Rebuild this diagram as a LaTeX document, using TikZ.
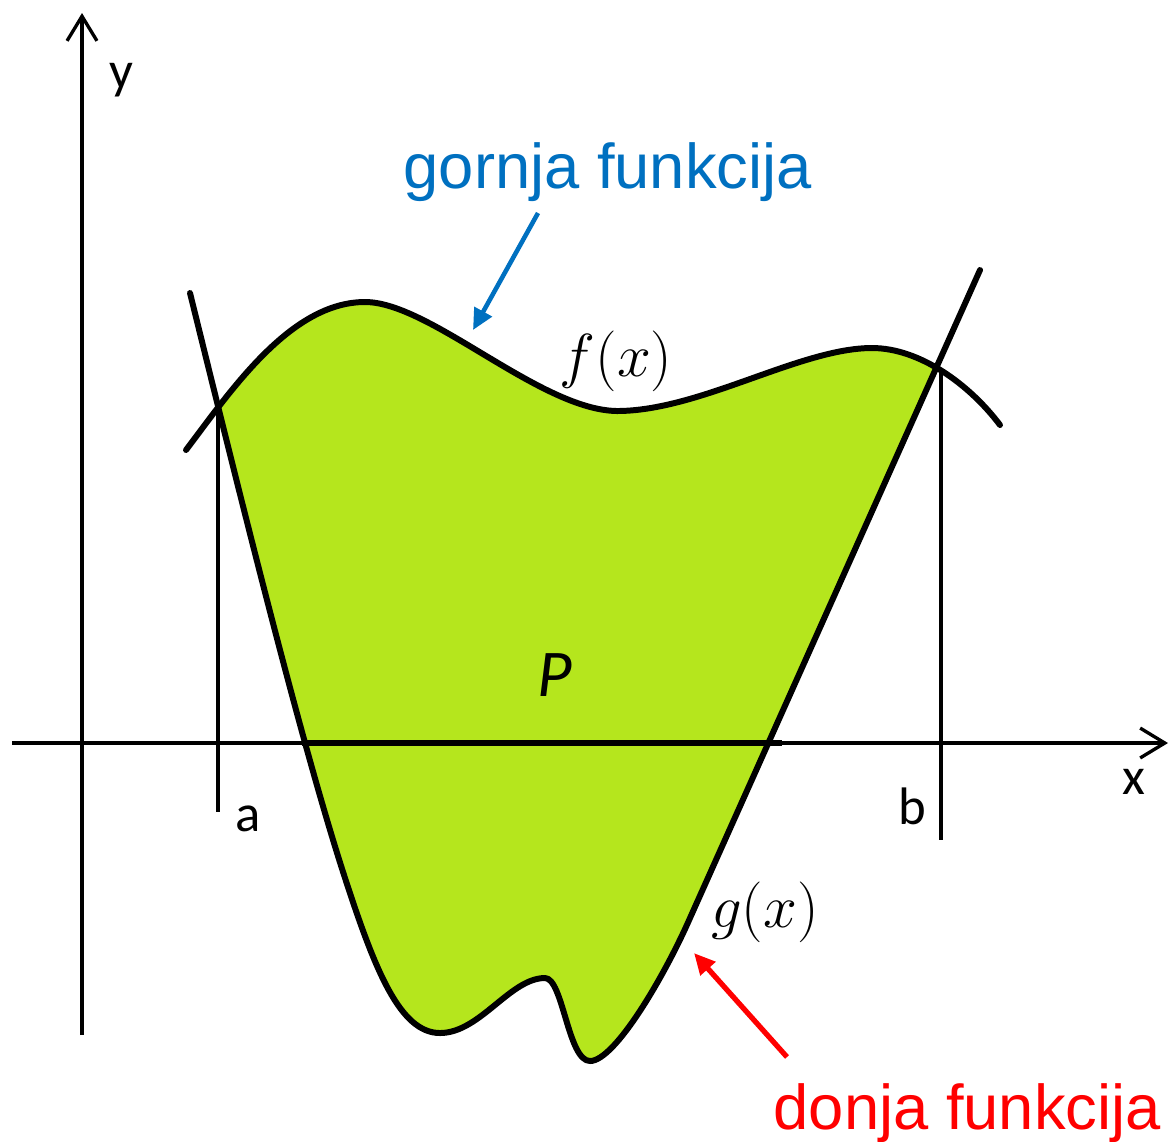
\documentclass[tikz,border=0pt]{standalone}
\usepackage{fontspec}
\setmainfont{Liberation Sans}
\newfontfamily\calibri{Carlito}
\usetikzlibrary{arrows.meta}

\definecolor{povrsina}{HTML}{B5E61D}
\definecolor{plava}{HTML}{0070C0}

% f(x) i g(x)
\newcommand\fcurve{(186,450) .. controls (230,392) and (290,302) .. (365,302)
  .. controls (430,302) and (540,410) .. (617,411)
  .. controls (700,411) and (800,348) .. (872,348)
  .. controls (920,348) and (970,385) .. (1000,425)}
\newcommand\gcurve{(190,293) .. controls (235,475) and (300,740) .. (345,878)
  .. controls (375,970) and (400,1033) .. (440,1033)
  .. controls (480,1033) and (510,978) .. (545,978)
  .. controls (563,978) and (568,1061) .. (590,1061)
  .. controls (615,1061) and (665,975) .. (690,918)
  -- (980,270)}

\begin{document}
\begin{tikzpicture}[x=0.01cm, y=-0.01cm,
  curve/.style={line width=1.7pt, line join=round, line cap=round},
  axis/.style={line width=0.95pt, -{Straight Barb[length=7pt,width=8.5pt]}},
  bound/.style={line width=0.95pt},
  lbl/.style={inner sep=0pt, font=\calibri\fontsize{15}{15}\selectfont},
  fn/.style={inner sep=0pt, font=\fontsize{16}{17}\selectfont},
  note/.style={inner sep=0pt, anchor=base west, font=\fontsize{18}{20}\selectfont},
  ptr/.style={line width=1.3pt, -{Triangle[length=6pt,width=5.5pt]}}
]
\useasboundingbox (0,0) rectangle (1170,1141);

% 面积 P
\begin{scope}
  \clip \fcurve -- (1000,1141) -- (186,1141) -- cycle;
  \clip \gcurve -- (980,0) -- (190,0) -- cycle;
  \fill[povrsina] (0,0) rectangle (1170,1141);
\end{scope}

% 坐标轴
\draw[axis] (12,743) -- (1168,743);
\draw[axis] (82,1035) -- (82,13);
\draw[line width=1.5pt] (302,743) -- (782,743);

% 边界 a, b
\draw[bound] (218,406) -- (218,812);
\draw[bound] (941,369) -- (941,840);

% 曲线
\draw[curve] \fcurve;
\draw[curve] \gcurve;

% 标签
\node[lbl] (ylbl) at (121,80) {y};
\node[lbl] (xlbl) at (1134,782) {x};
\node[lbl] (albl) at (248,819) {a};
\node[lbl] (blbl) at (912,806) {b};
\node[fn] (flbl) at (616,361) {$f(x)$};
\node[fn] (glbl) at (765,912) {$g(x)$};
\node[inner sep=0pt, font=\calibri\itshape\fontsize{19}{19}\selectfont] (plbl) at (555,675) {P};

% 说明与箭头
\node[note, text=plava] (gornja) at (403,188) {gornja funkcija};
\node[note, text=red] (donja) at (773,1129) {donja funkcija};
\coordinate (fpt) at (473,330);
\coordinate (gpt) at (694,953);
\draw[ptr, plava] ([shift={(135,25)}]gornja.base west) -- (fpt);
\draw[ptr, red, line width=1.5pt] ([shift={(14,-72)}]donja.base west) -- (gpt);

\end{tikzpicture}
\end{document}
